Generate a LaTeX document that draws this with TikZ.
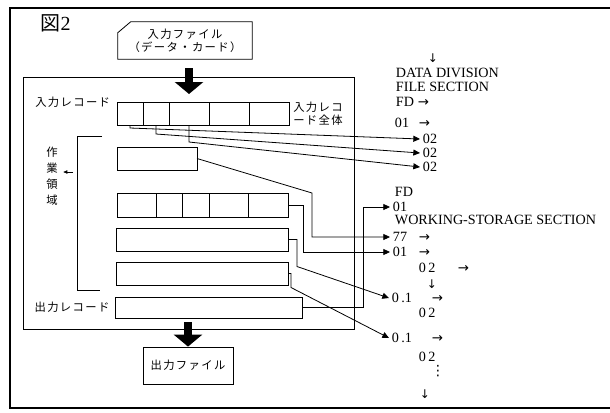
\documentclass[tikz,border=0pt]{standalone}
\usepackage{fontspec}
\setmainfont{Liberation Serif}
\newfontfamily\jp[LetterSpace=12]{Noto Sans CJK JP}
\newfontfamily\symfont{DejaVu Sans}
\usetikzlibrary{positioning,arrows.meta}
\tikzset{
  frame/.style={line width=1.4pt},
  area/.style={line width=0.6pt},
  cell/.style={draw,line width=0.6pt,inner sep=0pt,outer sep=0pt,
    minimum height=17.25pt},
  link/.style={-{Triangle[length=5pt,width=4.5pt]},line width=0.6pt},
  bigarrow/.style={-{Triangle[length=9pt,width=21pt]},line width=6pt},
  code/.style={anchor=west,inner xsep=2pt,inner ysep=0pt,
    font=\fontsize{10.6}{12}\selectfont},
  downmark/.style={inner sep=0pt,font=\symfont\fontsize{9}{9}\selectfont},
  jplabel/.style={font=\jp\fontsize{8.5}{9.5}\selectfont,inner sep=0pt}
}
\newcommand\codearrow[2]{\makebox[#1][l]{#2}{\symfont\fontsize{10}{8}\selectfont →}}

\begin{document}
\begin{tikzpicture}[x=0.75pt,y=-0.75pt]
  \useasboundingbox (0,0) rectangle (610,412);
  % frame, open at the right
  \draw[frame] (612,8) -- (10,8) -- (10,408) -- (612,408);
  \node[anchor=west,font=\fontsize{15}{16}\selectfont] (fig) at (36,23) {{\jp 図}2};

  % input file
  \node[jplabel,align=center,minimum width=100.5pt,minimum height=27.75pt] (infile) at (185,40.5)
    {入力ファイル\\（データ・カード）};
  \draw[area] ([yshift=-8.25pt]infile.north west) -- ([xshift=9.75pt]infile.north west)
    -- (infile.north east) -- (infile.south east) -- (infile.south west) -- cycle;

  % memory
  \node[draw,area,inner sep=0pt,outer sep=0pt,minimum width=248.25pt,minimum height=189pt,
    anchor=north west] (mem) at (23,77) {};

  % input record
  \node[cell,minimum width=19.5pt,anchor=north west] (in1) at (117,102) {};
  \node[cell,minimum width=19.5pt,right=0pt of in1] (in2) {};
  \node[cell,minimum width=30pt,right=0pt of in2] (in3) {};
  \node[cell,minimum width=30pt,right=0pt of in3] (in4) {};
  \node[cell,minimum width=30pt,right=0pt of in4] (in5) {};
  \node[jplabel,anchor=east] (inlabel) at ([xshift=-5pt]in1.north west) {入力レコード};
  \node[jplabel,anchor=west,align=left] (wholelabel) at ([xshift=3pt]in5.east) {入力レコ\\ード全体};

  % work area
  \node[jplabel,align=center,font=\jp\fontsize{8.5}{12}\selectfont] (worklabel) at (52,176.5)
    {作\\業\\領\\域};
  \draw[area] (102,136) -- (77,136) -- (77,290) -- (100,290);
  \coordinate (brk) at (73,172);
  \draw[-{Triangle[length=3pt,width=2.5pt]},line width=0.5pt] (brk) -- ([xshift=4pt]worklabel.east |- brk);

  \node[cell,minimum width=60pt,anchor=north west] (w1) at (117,147) {};
  \node[cell,minimum width=29.25pt,minimum height=18pt,anchor=north west] (w2a) at (117,193) {};
  \node[cell,minimum width=19.5pt,minimum height=18pt,right=0pt of w2a] (w2b) {};
  \node[cell,minimum width=20.25pt,minimum height=18pt,right=0pt of w2b] (w2c) {};
  \node[cell,minimum width=29.25pt,minimum height=18pt,right=0pt of w2c] (w2d) {};
  \node[cell,minimum width=30pt,minimum height=18pt,right=0pt of w2d] (w2e) {};
  \node[cell,minimum width=129pt,anchor=north west] (w3) at (116,228) {};
  \node[cell,minimum width=129pt,anchor=north west] (w4) at (116,262) {};

  % output record and file
  \node[cell,minimum width=140.25pt,minimum height=15.75pt,anchor=north west] (outrec) at (115,297) {};
  \node[jplabel,anchor=east] (outlabel) at ([xshift=-4pt]outrec.west) {出力レコード};
  \node[draw,area,jplabel,minimum width=67.5pt,minimum height=27.75pt] (outfile) at (188,365.5) {出力ファイル};

  \draw[bigarrow] ([yshift=-6.75pt]infile.south -| in3.north) -- ([yshift=6pt]in3.north);
  \draw[bigarrow] ([yshift=-3pt]outrec.south -| outfile.north) -- (outfile.north);

  % program text
  \node[downmark] (topdown) at (433,58) {↓};
  \node[code] (datadiv) at (393,73) {DATA DIVISION};
  \node[code] (filesec) at (393,87) {FILE SECTION};
  \node[code] (fd1) at (393,102) {\codearrow{16.5pt}{FD}};
  \node[code] (rec01) at (392,123) {\codearrow{18pt}{01}};
  \node[code] (f02a) at (420,139) {02};
  \node[code] (f02b) at (420,153) {02};
  \node[code] (f02c) at (420,167) {02};
  \node[code] (fd2) at (392,192) {FD};
  \node[code] (ws01) at (390,207) {01};
  \node[code] (wssec) at (392,220) {WORKING-STORAGE SECTION};
  \node[code] (s77) at (390,237) {\codearrow{19.5pt}{77}};
  \node[code] (s01) at (390,252) {\codearrow{19.5pt}{01}};
  \node[code] (s02) at (416,268) {\codearrow{29.25pt}{0\,2}};
  \node[downmark] (middown) at (432,284) {↓};
  \node[code] (p01a) at (389,298) {\codearrow{30pt}{0\,.1}};
  \node[code] (p02a) at (416,313) {0\,2};
  \node[code] (p01b) at (389,338) {\codearrow{30pt}{0\,.1}};
  \node[code] (p02b) at (416,357) {0\,2};
  \node[code,anchor=center] (dots) at (438,371) {\symfont ⋮};
  \node[downmark] (enddown) at (425,394) {↓};

  % links
  \draw[link] (in1.south) -- ++(0,3) -- (f02a.west);
  \draw[link] (in2.south) -- ++(0,9) -- (f02b.west);
  \draw[link] (in3.south) -- ++(0,17) -- (f02c.west);
  \draw[link] (w1.east) -- (312,193) |- (s77.west);
  \draw[link] (w2e.east) -- ++(15,0) |- (s01.west);
  \draw[link] (w3.east) -- ++(9,0) -- ++(0,27) -- (p01a.west);
  \draw[link] (w4.east) -- ++(3,0) -- ++(0,14) -- (p01b.west);
  \draw[link] (outrec.east) -- ++(61,0) |- (ws01.west);
\end{tikzpicture}
\end{document}
